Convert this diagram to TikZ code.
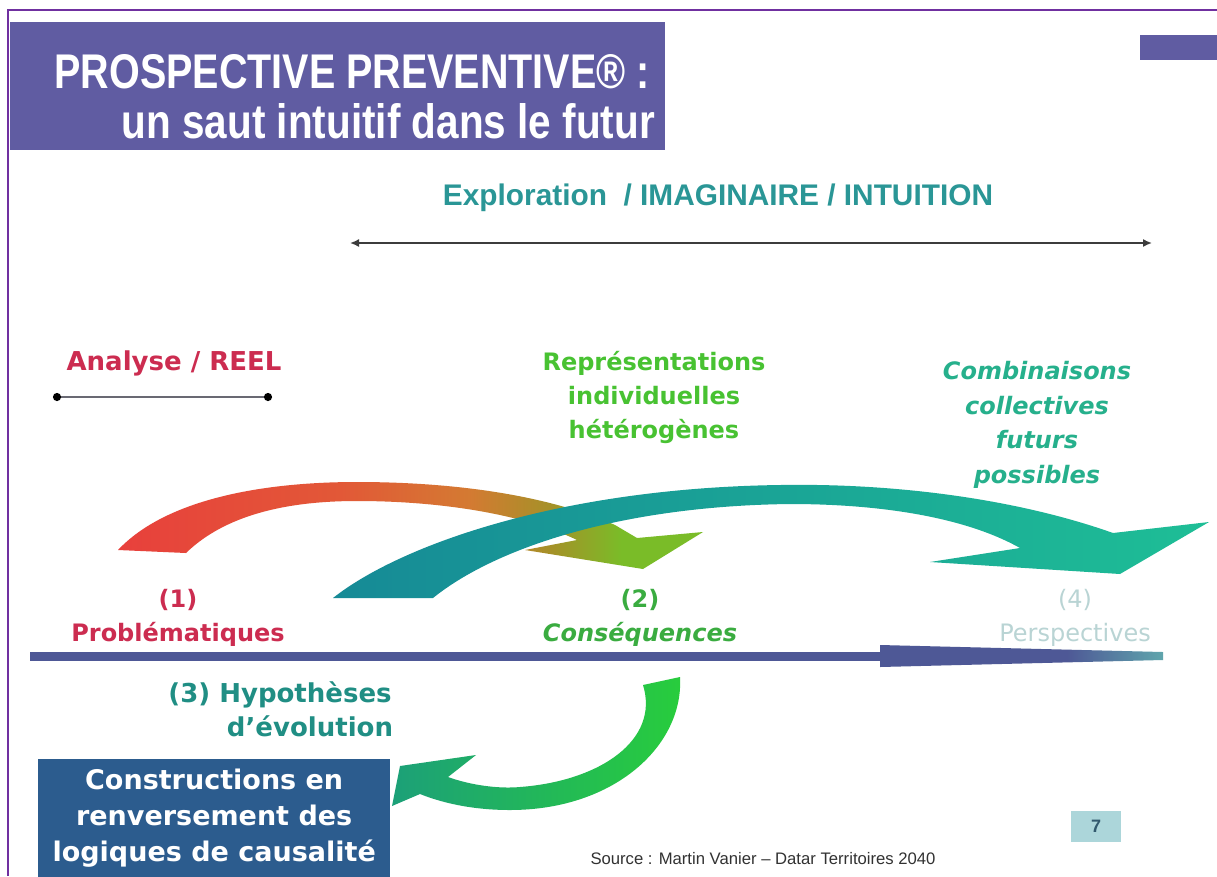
\documentclass[tikz,border=0pt]{standalone}
\usepackage{fontspec}
\setmainfont{DejaVu Sans}
\newfontfamily\arialf{Liberation Sans}
\usetikzlibrary{arrows.meta}
\definecolor{titlefill}{RGB}{96,92,162}
\definecolor{bordercol}{RGB}{112,48,160}
\definecolor{crimson}{RGB}{204,44,80}
\definecolor{reprgreen}{RGB}{72,194,50}
\definecolor{combteal}{RGB}{38,176,140}
\definecolor{consgreen}{RGB}{58,172,64}
\definecolor{hypteal}{RGB}{32,142,132}
\definecolor{persp}{RGB}{185,212,212}
\definecolor{explteal}{RGB}{42,150,150}
\definecolor{boxblue}{RGB}{44,92,142}
\definecolor{axisblue}{RGB}{78,88,150}
\definecolor{redA}{RGB}{232,64,60}
\definecolor{redB}{RGB}{226,88,55}
\definecolor{orangeA}{RGB}{212,122,50}
\definecolor{oliveA}{RGB}{165,145,40}
\definecolor{greenA}{RGB}{122,188,40}
\definecolor{tealA}{RGB}{22,138,150}
\definecolor{tealB}{RGB}{30,190,150}
\definecolor{hookA}{RGB}{28,160,120}
\definecolor{hookB}{RGB}{40,205,60}
\definecolor{axisend}{RGB}{95,165,172}
\definecolor{sevenfill}{RGB}{172,214,218}
\pgfdeclarehorizontalshading{redgreen}{100bp}{color(0bp)=(redA); color(25bp)=(redA); color(44bp)=(redB); color(55bp)=(orangeA); color(62bp)=(oliveA); color(68bp)=(greenA); color(100bp)=(greenA)}
\pgfdeclarehorizontalshading{axisfade}{100bp}{color(0bp)=(axisblue); color(25bp)=(axisblue); color(58bp)=(axisblue); color(75bp)=(axisend); color(100bp)=(axisend)}
\begin{document}
\begin{tikzpicture}[x=1pt,y=-1pt,
  comic/.style={font=\fontsize{24}{34}\selectfont\bfseries, align=center, inner sep=0pt},
  plain/.style={inner sep=0pt},
  tipline/.style={line width=1.6pt, draw={rgb,255:red,60;green,60;blue,60}},
]
\useasboundingbox (0,0) rectangle (1217,876);
\fill[white] (0,0) rectangle (1217,876);
% frame
\draw[bordercol, line width=2pt] (8,876) -- (8,10) -- (1217,10);
% title
\node[fill=titlefill, minimum width=655pt, minimum height=128pt, anchor=north west, inner sep=0pt] (titlebox) at (10,22) {};
\node[plain, anchor=base east, text=white] (t1) at (650,88) {\resizebox{595pt}{34pt}{\arialf\bfseries PROSPECTIVE PREVENTIVE® :}};
\node[plain, anchor=base east, text=white] (t2) at (655,138) {\resizebox{533pt}{35pt}{\arialf\bfseries un saut intuitif dans le futur}};
\node[fill=titlefill, minimum width=77pt, minimum height=25pt, anchor=north west, inner sep=0pt] (corner) at (1140,35) {};
% exploration
\node[plain, anchor=base, text=explteal] (expl) at (718,205) {\resizebox{550pt}{!}{\arialf\bfseries Exploration\ \ / IMAGINAIRE / INTUITION}};
\coordinate (e1) at (350,243);
\coordinate (e2) at (1152,243);
\draw[tipline, {Latex[length=9pt,width=8pt]}-{Latex[length=9pt,width=8pt]}] (e1) -- (e2);
% analyse
\node[comic, anchor=base, text=crimson, font=\fontsize{26}{34}\selectfont\bfseries] (ana) at (174,370) {Analyse / REEL};
\coordinate (a1) at (53,397);
\coordinate (a2) at (272,397);
\draw[line width=2.4pt, draw={rgb,255:red,105;green,105;blue,115}, {Circle[length=8pt,color=black]}-{Circle[length=8pt,color=black]}] (a1) -- (a2);
% upper labels
\node[comic, text=reprgreen] (repr) at (654,397) {Représentations\\individuelles\\hétérogènes};
\node[comic, text=combteal, font=\fontsize{24}{34.5}\selectfont\bfseries\itshape] (comb) at (1037,425) {Combinaisons\\collectives\\futurs\\possibles};
% axis
\fill[axisblue] (30,652) rectangle (1000,661);
\shade[shading=axisfade] (880,645) -- (1163,652) -- (1163,660) -- (880,667) -- cycle;
% red -> green arrow
\shade[shading=redgreen] (118,550) .. controls (165,500) and (260,482) .. (357,482)
  .. controls (450,482) and (545,494) .. (615,525) -- (637,538) -- (703,532) -- (643,569) -- (525,550) -- (577,540)
  .. controls (530,517) and (450,501) .. (357,501)
  .. controls (275,501) and (220,520) .. (186,553) -- cycle;
% teal arrow
\shade[left color=tealA, right color=tealB] (333,598) .. controls (400,545) and (560,488) .. (780,485)
  .. controls (900,483) and (1020,500) .. (1113,533) -- (1209,522) -- (1120,574) -- (930,562) -- (1020,548)
  .. controls (965,517) and (880,504) .. (790,504)
  .. controls (620,506) and (495,548) .. (433,598) -- cycle;
% green hook arrow
\shade[left color=hookA, right color=hookB] (643,685) -- (680,677)
  .. controls (684,745) and (615,810) .. (510,810)
  .. controls (470,810) and (440,802) .. (420,794) -- (392,806) -- (400,766) -- (476,755) -- (448,777)
  .. controls (470,785) and (498,789) .. (520,787)
  .. controls (600,781) and (660,740) .. (643,685) -- cycle;
% axis labels
\node[comic, text=crimson] (p1) at (178,618) {(1)\\Problématiques};
\node[comic, text=consgreen] (p2) at (640,618) {(2)\\\textit{Conséquences}};
\node[comic, text=persp, font=\fontsize{24}{34}\selectfont] (p4) at (1075,618) {(4)\\Perspectives};
\node[comic, text=hypteal, font=\fontsize{26}{34}\selectfont\bfseries] (p3) at (280,709) {(3) Hypothèses\\\hspace*{60pt}d'évolution};
% blue box
\node[fill=boxblue, minimum width=352pt, minimum height=118pt, anchor=north west, inner sep=0pt] (cbox) at (38,759) {};
\node[comic, text=white, font=\fontsize{27}{36}\selectfont\bfseries] (ctext) at (cbox.center) {Constructions en\\renversement des\\logiques de causalité};
% source and page number
\node[plain, anchor=base, text={rgb,255:red,50;green,50;blue,50}] (src) at (763,864) {\resizebox{345pt}{!}{\arialf Source : Martin Vanier – Datar Territoires 2040}};
\node[fill=sevenfill, minimum width=50pt, minimum height=31pt, inner sep=0pt, text={rgb,255:red,50;green,90;blue,110}, font=\arialf\bfseries\fontsize{18}{20}\selectfont] (seven) at (1096,826) {7};
\end{tikzpicture}
\end{document}
